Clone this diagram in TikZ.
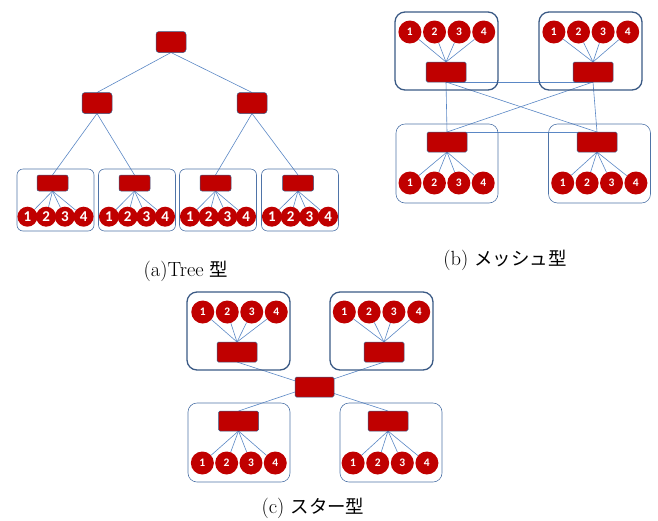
\documentclass[tikz,border=0pt]{standalone}
\usepackage{fontspec}
\newfontfamily\cjk[Scale=0.9]{Noto Sans CJK JP}
\newfontfamily\numfont{Carlito}
\usetikzlibrary{backgrounds}
\definecolor{boxred}{HTML}{C00000}
\definecolor{linkblue}{HTML}{5A87C5}
\definecolor{frameblue}{HTML}{4F74A8}
\definecolor{edgeblue}{HTML}{3B5A85}
\tikzset{
  sw/.style={draw=edgeblue, line width=0.5pt, fill=boxred, inner sep=0pt, outer sep=0pt},
  swA/.style={sw, minimum width=30pt, minimum height=21pt, rounded corners=3pt},
  swS/.style={sw, minimum width=31pt, minimum height=16pt, rounded corners=2pt},
  swB/.style={sw, minimum width=40pt, minimum height=20pt, rounded corners=1.5pt},
  leafA/.style={circle, fill=boxred, minimum size=20pt, inner sep=0pt, text=white, font=\numfont\bfseries\fontsize{15}{15}\selectfont},
  leafB/.style={circle, fill=boxred, minimum size=23pt, inner sep=0pt, text=white, font=\numfont\bfseries\fontsize{11.5}{11.5}\selectfont},
  frameA/.style={draw=frameblue, line width=0.6pt, rounded corners=6pt, minimum width=77pt, minimum height=62pt, inner sep=0pt},
  frameThin/.style={draw=frameblue, line width=0.6pt, rounded corners=9pt, minimum width=102pt, minimum height=79pt, inner sep=0pt},
  frameThick/.style={draw=edgeblue, line width=1.3pt, rounded corners=10pt, minimum width=103pt, minimum height=78pt, inner sep=0pt},
  link/.style={draw=linkblue, line width=0.6pt},
  captext/.style={font=\fontsize{20.5}{24}\selectfont, inner sep=0pt}
}
\begin{document}
\begin{tikzpicture}[x=1pt,y=-1pt]
\useasboundingbox (0,0) rectangle (658,520);
% ---------- (a) Tree ----------
\node[swA] (a0) at (171,42) {};
\node[swA] (a1) at (97,103) {};
\node[swA] (a2) at (252,103) {};
\foreach \i/\cx/\rx in {1/55.5/52.5, 2/137/134.5, 3/218/215.5, 4/300/298} {
  \node[frameA] (ca\i) at (\cx,200) {};
  \node[swS] (ra\i) at (\rx,183) {};
  \foreach \j in {1,...,4} {
    \node[leafA] (la\i\j) at ({\cx+(\j-2.5)*18.7},216.7) {\j};
  }
}
\node[captext] (capa) at (186,271) {(a)Tree {\cjk 型}};
% ---------- (b) Mesh ----------
\node[frameThick] (fbtl) at (446.5,51) {};
\node[frameThick] (fbtr) at (590.5,51) {};
\node[frameThin] (fbbl) at (447,163.5) {};
\node[frameThin] (fbbr) at (599.5,163.5) {};
\node[swB] (btl) at (446,72) {};
\node[swB] (btr) at (593,72) {};
\node[swB] (bbl) at (447,142) {};
\node[swB] (bbr) at (597,142) {};
\foreach \j in {1,...,4} {
  \node[leafB] (lbtl\j) at ({446.8+(\j-2.5)*24.6},32) {\j};
  \node[leafB] (lbtr\j) at ({590.8+(\j-2.5)*24.6},32) {\j};
  \node[leafB] (lbbl\j) at ({446.6+(\j-2.5)*24.4},183) {\j};
  \node[leafB] (lbbr\j) at ({599.3+(\j-2.5)*24.4},183) {\j};
}
\node[captext] (capb) at (505,260) {(b) {\cjk メッシュ型}};
% ---------- (c) Star ----------
\node[frameThick] (fctl) at (238.5,331) {};
\node[frameThick] (fctr) at (381.5,331) {};
\node[frameThin] (fcbl) at (239,442.5) {};
\node[frameThin] (fcbr) at (391,442.5) {};
\node[swB] (ctl) at (237,352) {};
\node[swB] (ctr) at (384,352) {};
\node[swB, minimum width=39pt] (cc) at (314.5,387) {};
\node[swB] (cbl) at (238.5,421) {};
\node[swB] (cbr) at (388,421) {};
\foreach \j in {1,...,4} {
  \node[leafB] (lctl\j) at ({239.5+(\j-2.5)*24.5},312) {\j};
  \node[leafB] (lctr\j) at ({381.5+(\j-2.5)*24.8},312) {\j};
  \node[leafB] (lcbl\j) at ({238.8+(\j-2.5)*24.3},463) {\j};
  \node[leafB] (lcbr\j) at ({390+(\j-2.5)*24.6},463) {\j};
}
\node[captext] (capc) at (313,508) {(c) {\cjk スター型}};
% ---------- connectors ----------
\begin{scope}[on background layer]
  \draw[link] (a0.south) -- (a1.north);
  \draw[link] (a0.south) -- (a2.north);
  \draw[link] (a1.south) -- (ra1.north);
  \draw[link] (a1.south) -- (ra2.north);
  \draw[link] (a2.south) -- (ra3.north);
  \draw[link] (a2.south) -- (ra4.north);
  \foreach \i in {1,...,4} {
    \foreach \j in {1,...,4} {
      \draw[link] (ra\i.south) -- (la\i\j);
    }
  }
  \foreach \j in {1,...,4} {
    \draw[link] (btl.north) -- (lbtl\j);
    \draw[link] (btr.north) -- (lbtr\j);
    \draw[link] (bbl.south) -- (lbbl\j);
    \draw[link] (bbr.south) -- (lbbr\j);
    \draw[link] (ctl.north) -- (lctl\j);
    \draw[link] (ctr.north) -- (lctr\j);
    \draw[link] (cbl.south) -- (lcbl\j);
    \draw[link] (cbr.south) -- (lcbr\j);
  }
  \draw[link] (btl.south) -- (btr.south);
  \draw[link] (bbl.north) -- (bbr.north);
  \draw[link] (btl.south) -- (bbl.north);
  \draw[link] (btr.south) -- (bbr.north);
  \draw[link] (btl.south) -- (bbr.north);
  \draw[link] (btr.south) -- (bbl.north);
  \draw[link] (ctl.south) -- (cbr.north);
  \draw[link] (ctr.south) -- (cbl.north);
\end{scope}
\end{tikzpicture}
\end{document}
